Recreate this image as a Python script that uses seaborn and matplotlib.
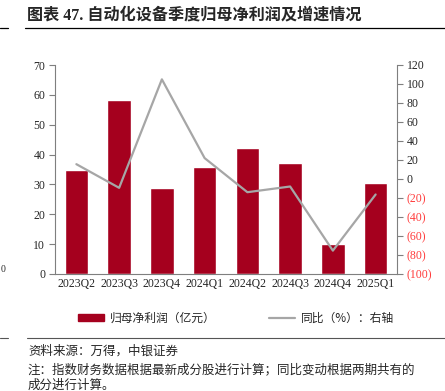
import matplotlib
matplotlib.use('Agg')
import matplotlib.pyplot as plt
import matplotlib.lines as mlines
import matplotlib.patches as mpatches
import seaborn as sns
import numpy as np
import pandas as pd

# Datos del gráfico
quarters = ['2023Q2', '2023Q3', '2023Q4', '2024Q1', '2024Q2', '2024Q3', '2024Q4', '2025Q1']
profit = [35.0, 58.3, 28.8, 35.8, 42.2, 37.1, 9.9, 30.5]      # 归母净利润（亿元）
yoy = [15.6, -9.3, 104.9, 22.0, -13.9, -7.9, -75.4, -16.3]     # 同比（%）
left_ticks = list(range(0, 71, 10))
right_ticks = list(range(-100, 121, 20))

title = '图表 47. 自动化设备季度归母净利润及增速情况'
bar_label = '归母净利润（亿元）'
line_label = '同比（%）：右轴'
source = '资料来源：万得，中银证券'
note1 = '注：指数财务数据根据最新成分股进行计算；同比变动根据两期共有的'
note2 = '成分进行计算。'

BAR_COLOR = '#A5001E'
LINE_COLOR = '#A6A6A6'
AXIS_COLOR = '#7F7F7F'
NEG_COLOR = '#FF3B3B'
CJK = ['Noto Sans CJK SC', 'DejaVu Sans']
SERIF = ['Liberation Serif', 'Noto Sans CJK SC']

sns.set_style('white')
plt.rcParams['font.family'] = SERIF

df = pd.DataFrame({'quarter': quarters, 'profit': profit, 'yoy': yoy,
                   'pos': np.arange(len(quarters))})

fig = plt.figure(figsize=(4.45, 3.91), dpi=100)
ax = fig.add_axes([55 / 445, 1 - 274 / 391, 342 / 445, 209 / 391])

sns.barplot(data=df, x='quarter', y='profit', color=BAR_COLOR, width=0.55,
            saturation=1, ax=ax)
ax2 = ax.twinx()
sns.lineplot(data=df, x='pos', y='yoy', color=LINE_COLOR, linewidth=1.6, ax=ax2)

ax.set_xlim(-0.5, len(quarters) - 0.5)
ax.set_ylim(0, 70)
ax.set_yticks(left_ticks)
ax2.set_ylim(-100, 120)
ax2.set_yticks(right_ticks)

ax.set_xlabel('')
ax.set_ylabel('')
ax2.set_xlabel('')
ax2.set_ylabel('')

# Etiquetas del eje x centradas, marcas entre categorías
ax.set_xticks(np.arange(len(quarters)))
ax.set_xticklabels(quarters)
ax.set_xticks(np.arange(len(quarters) + 1) - 0.5, minor=True)
ax.tick_params(axis='x', which='major', length=0, pad=3, labelsize=8.5)
ax.tick_params(axis='x', which='minor', length=4, direction='out', color=AXIS_COLOR, width=0.8)
ax.tick_params(axis='y', length=4, direction='out', color=AXIS_COLOR, width=0.8, labelsize=8.5, pad=3)
ax2.tick_params(axis='y', length=4, direction='out', color=AXIS_COLOR, width=0.8, labelsize=8.5, pad=3)

ax2.set_yticklabels([f'({-v})' if v < 0 else str(v) for v in right_ticks])
for lbl, v in zip(ax2.get_yticklabels(), right_ticks):
    if v < 0:
        lbl.set_color(NEG_COLOR)

for a in (ax, ax2):
    a.spines['top'].set_visible(False)
    for s in ('left', 'right', 'bottom'):
        a.spines[s].set_color(AXIS_COLOR)
        a.spines[s].set_linewidth(0.8)
    a.grid(False)
ax.spines['right'].set_visible(False)
ax2.spines['left'].set_visible(False)
ax2.spines['bottom'].set_visible(False)

# Leyenda
handles = [mpatches.Patch(color=BAR_COLOR, label=bar_label),
           mlines.Line2D([], [], color=LINE_COLOR, linewidth=1.6, label=line_label)]
fig.legend(handles=handles, loc='center', bbox_to_anchor=(0.53, 1 - 318 / 391), ncol=2,
           frameon=False, prop={'family': CJK, 'size': 8.5}, handlelength=2.2,
           handleheight=0.6, columnspacing=4.5, handletextpad=0.5)

# Título y notas
fig.text(27 / 445, 1 - 15 / 391, title, family=SERIF, fontsize=11.6, fontweight='bold',
         va='center', ha='left')
fig.add_artist(mlines.Line2D([25 / 445, 1], [1 - 28 / 391] * 2, color='black', linewidth=0.9))
fig.add_artist(mlines.Line2D([0, 8 / 445], [1 - 28 / 391] * 2, color='black', linewidth=0.9))
fig.add_artist(mlines.Line2D([27 / 445, 1], [1 - 338 / 391] * 2, color='#555555', linewidth=0.8))
fig.add_artist(mlines.Line2D([0, 8 / 445], [1 - 338 / 391] * 2, color='#555555', linewidth=0.8))
fig.text(0.5 / 445, 1 - 270 / 391, '0', fontsize=7, va='center', ha='left')

fig.text(28 / 445, 1 - 351 / 391, source, family=CJK, fontsize=9, va='center', ha='left')
fig.text(28 / 445, 1 - 370 / 391, note1, family=CJK, fontsize=9.0, va='center', ha='left')
fig.text(28 / 445, 1 - 385 / 391, note2, family=CJK, fontsize=9.0, va='center', ha='left')

fig.savefig('out.png', dpi=100)
